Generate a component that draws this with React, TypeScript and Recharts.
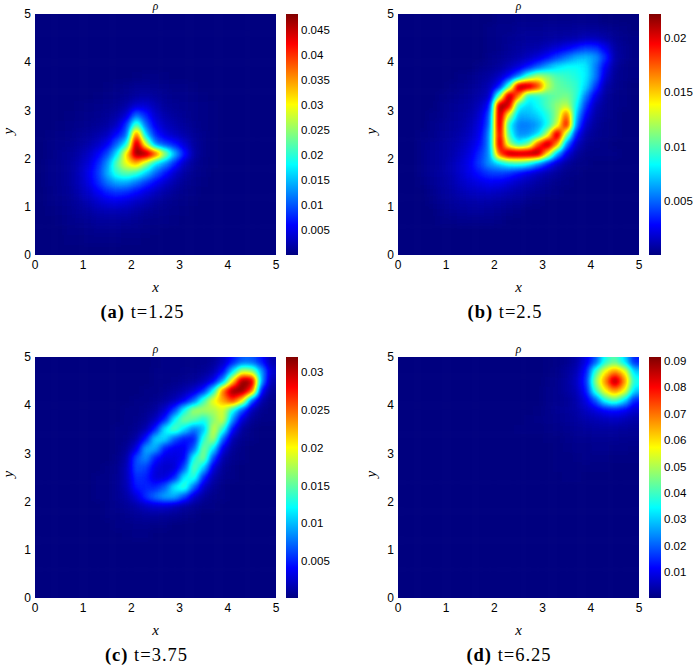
import { Bar, BarChart, Scatter, ScatterChart, XAxis, YAxis } from 'recharts';

// rho samples on a 25x25 grid, in units of 1e-4, top row first (y = 4.9 down to 0.1).
// Each row is [first column, values]; anything not listed is background.
type SparseRow = [number, number[]];

const xCenters = [0.1, 0.3, 0.5, 0.7, 0.9, 1.1, 1.3, 1.5, 1.7, 1.9, 2.1, 2.3, 2.5, 2.7, 2.9, 3.1, 3.3, 3.5, 3.7, 3.9, 4.1, 4.3, 4.5, 4.7, 4.9];
const yCenters = [4.9, 4.7, 4.5, 4.3, 4.1, 3.9, 3.7, 3.5, 3.3, 3.1, 2.9, 2.7, 2.5, 2.3, 2.1, 1.9, 1.7, 1.5, 1.3, 1.1, 0.9, 0.7, 0.5, 0.3, 0.1];

const axisTicks = [0, 1, 2, 3, 4, 5];

const rhoA: SparseRow[] = [
  [0, []], [0, []], [0, []], [0, []], [0, []], [0, []],
  [10, [2, 3, 3, 2]],
  [7, [2, 3, 5, 9, 10, 8, 6, 4, 3, 2]],
  [6, [2, 3, 5, 9, 16, 18, 13, 9, 6, 5, 3, 2]],
  [4, [2, 3, 5, 7, 10, 18, 38, 40, 25, 14, 10, 7, 5, 3, 2]],
  [3, [2, 3, 5, 8, 11, 18, 40, 115, 75, 35, 20, 13, 9, 6, 3, 2]],
  [2, [2, 3, 5, 8, 11, 17, 32, 85, 225, 110, 50, 30, 20, 13, 8, 4, 2]],
  [1, [2, 3, 6, 9, 13, 20, 30, 65, 105, 390, 160, 75, 45, 30, 20, 11, 5, 2]],
  [1, [3, 5, 8, 13, 20, 32, 55, 110, 180, 530, 280, 120, 90, 70, 40, 16, 6, 2]],
  [1, [4, 7, 11, 18, 32, 55, 95, 170, 320, 600, 500, 400, 260, 150, 70, 18, 6, 2]],
  [1, [5, 8, 13, 24, 42, 75, 130, 230, 300, 340, 260, 170, 130, 75, 30, 12, 4, 2]],
  [1, [5, 8, 14, 26, 50, 85, 145, 205, 225, 205, 160, 110, 70, 35, 17, 8, 3]],
  [1, [5, 8, 14, 26, 46, 78, 115, 140, 140, 115, 85, 58, 35, 20, 10, 5, 2]],
  [1, [4, 8, 12, 22, 36, 55, 75, 85, 80, 62, 45, 30, 18, 11, 6, 3]],
  [1, [3, 6, 10, 16, 25, 36, 45, 48, 42, 33, 24, 16, 10, 6, 3, 2]],
  [1, [2, 4, 7, 11, 16, 22, 25, 25, 22, 17, 12, 8, 5, 3, 2]],
  [2, [2, 5, 7, 10, 13, 14, 14, 12, 9, 6, 4, 3, 2]],
  [3, [3, 4, 6, 7, 7, 7, 6, 5, 3, 2]],
  [3, [2, 2, 3, 3, 3, 3, 2, 2]],
  [0, []],
];

const rhoB: SparseRow[] = [
  [10, [2, 2, 3, 3, 3, 3, 3, 3, 3, 3, 2]],
  [9, [2, 3, 3, 4, 4, 4, 5, 5, 5, 6, 6, 5, 4, 3, 2]],
  [9, [2, 3, 4, 5, 6, 6, 7, 8, 9, 10, 12, 12, 9, 5, 3, 2]],
  [9, [2, 3, 5, 7, 9, 10, 14, 18, 24, 32, 40, 38, 24, 8, 4, 2]],
  [9, [3, 4, 7, 10, 14, 20, 30, 42, 54, 66, 70, 62, 38, 10, 4, 2]],
  [8, [3, 4, 7, 12, 20, 32, 48, 65, 78, 85, 85, 80, 55, 25, 7, 3, 2]],
  [6, [2, 3, 5, 8, 15, 30, 55, 100, 125, 115, 100, 95, 90, 80, 55, 18, 5, 3, 2]],
  [5, [2, 3, 4, 7, 12, 30, 95, 240, 240, 190, 125, 105, 100, 95, 75, 40, 10, 4, 2]],
  [4, [2, 3, 4, 6, 10, 15, 105, 280, 170, 85, 90, 100, 105, 110, 95, 55, 22, 7, 3, 2]],
  [4, [3, 4, 6, 8, 14, 30, 250, 210, 85, 75, 85, 100, 115, 125, 85, 38, 12, 5, 3, 2]],
  [3, [2, 3, 5, 7, 10, 18, 45, 275, 130, 65, 68, 75, 90, 115, 180, 70, 25, 9, 4, 2]],
  [3, [3, 4, 6, 8, 12, 22, 50, 250, 85, 55, 55, 62, 85, 125, 205, 55, 16, 6, 3, 2]],
  [2, [2, 3, 5, 7, 10, 15, 25, 60, 210, 95, 58, 60, 75, 125, 245, 115, 30, 9, 4, 3, 2]],
  [2, [3, 4, 6, 9, 12, 18, 30, 60, 215, 120, 85, 105, 180, 285, 165, 55, 15, 5, 3, 2]],
  [2, [3, 5, 7, 10, 15, 22, 38, 60, 180, 230, 260, 285, 270, 145, 65, 22, 7, 3, 2, 2, 2]],
  [2, [3, 5, 7, 11, 17, 26, 42, 62, 75, 90, 95, 85, 60, 35, 16, 7, 3, 2]],
  [2, [3, 5, 8, 11, 17, 24, 33, 40, 42, 38, 30, 22, 15, 10, 6, 3, 2]],
  [2, [2, 4, 7, 10, 15, 19, 23, 25, 24, 20, 15, 11, 8, 5, 3, 2]],
  [3, [3, 6, 8, 11, 14, 15, 16, 14, 11, 9, 6, 4, 3, 2]],
  [3, [2, 4, 6, 8, 9, 10, 9, 8, 6, 5, 3, 2]],
  [4, [3, 4, 5, 6, 6, 5, 4, 3, 2]],
  [4, [2, 2, 3, 3, 3, 3, 2]],
  [0, []], [0, []], [0, []],
];

const rhoC: SparseRow[] = [
  [12, [1, 2, 2, 3, 4, 5, 8, 20, 45, 70, 70, 45, 15]],
  [12, [2, 2, 3, 4, 5, 8, 15, 40, 110, 185, 170, 90, 25]],
  [12, [2, 3, 4, 6, 9, 16, 35, 90, 210, 370, 310, 90, 15]],
  [11, [2, 3, 5, 9, 15, 25, 50, 120, 250, 340, 470, 260, 40, 8]],
  [10, [2, 3, 5, 10, 18, 35, 70, 140, 200, 230, 270, 210, 65, 14, 4]],
  [9, [2, 3, 5, 10, 25, 60, 125, 175, 175, 175, 190, 125, 65, 18, 5, 2]],
  [9, [2, 4, 8, 20, 50, 120, 160, 150, 125, 160, 190, 85, 25, 7, 3, 2]],
  [8, [2, 3, 6, 15, 50, 120, 150, 110, 75, 95, 190, 135, 40, 9, 3]],
  [8, [2, 4, 12, 45, 110, 110, 65, 45, 45, 135, 180, 70, 15, 5, 2]],
  [8, [3, 7, 30, 95, 95, 45, 35, 35, 70, 165, 115, 30, 8, 3]],
  [8, [4, 12, 65, 85, 45, 30, 30, 38, 130, 165, 60, 14, 5, 2]],
  [7, [2, 5, 18, 65, 60, 30, 22, 26, 65, 155, 105, 28, 8, 3]],
  [6, [2, 3, 6, 18, 55, 50, 26, 28, 50, 120, 135, 50, 14, 5, 2]],
  [6, [2, 3, 6, 16, 48, 50, 50, 70, 120, 140, 70, 22, 7, 3]],
  [6, [2, 3, 6, 12, 28, 55, 78, 95, 95, 60, 24, 9, 4, 2]],
  [7, [3, 5, 8, 13, 20, 25, 24, 18, 10, 6, 3, 2]],
  [7, [2, 3, 5, 7, 9, 9, 8, 6, 4, 2]],
  [8, [2, 3, 4, 4, 3, 2]],
  [9, [1, 2, 2]],
  [0, []], [0, []], [0, []], [0, []], [0, []], [0, []],
];

const rhoD: SparseRow[] = [
  [15, [4, 8, 15, 35, 90, 190, 370, 430, 320, 140]],
  [15, [5, 12, 25, 50, 130, 400, 580, 680, 580, 300]],
  [15, [8, 16, 30, 60, 150, 480, 680, 1500, 680, 370]],
  [15, [10, 16, 28, 50, 130, 400, 580, 680, 580, 300]],
  [15, [10, 14, 22, 40, 90, 190, 370, 430, 320, 140]],
  [14, [5, 12, 18, 25, 35, 60, 85, 120, 130, 110, 70]],
  [13, [3, 6, 10, 15, 21, 30, 40, 45, 55, 60, 50, 35]],
  [12, [3, 3, 5, 8, 10, 15, 20, 25, 28, 30, 28, 26, 22]],
  [15, [2, 5, 9, 13, 16, 18, 18, 18, 15, 14]],
  [16, [3, 6, 9, 12, 13, 13, 12, 9, 7]],
  [16, [3, 5, 8, 9, 8, 7, 5, 3, 2]],
  [16, [3, 3, 5, 5, 4, 3]],
  [17, [2, 2]],
  [0, []], [0, []], [0, []], [0, []], [0, []], [0, []], [0, []], [0, []], [0, []], [0, []], [0, []], [0, []],
];

const ticksA = [0.005, 0.01, 0.015, 0.02, 0.025, 0.03, 0.035, 0.04, 0.045];
const ticksB = [0.005, 0.01, 0.015, 0.02];
const ticksC = [0.005, 0.01, 0.015, 0.02, 0.025, 0.03];
const ticksD = [0.01, 0.02, 0.03, 0.04, 0.05, 0.06, 0.07, 0.08, 0.09];

const jetStops = ['#800000', '#ff0000', '#ff8000', '#ffff00', '#80ff80', '#00ffff', '#0080ff', '#0000ff', '#000080'];

const PLOT = 241;
const CELL = PLOT / 25;
const FONT = '"Liberation Sans", Arial, sans-serif';
const SERIF = '"Liberation Serif", "Times New Roman", serif';

function toCells(rows: SparseRow[]) {
  return rows.flatMap(([from, values], r) =>
    xCenters.map((x, c) => ({ x, y: yCenters[r], rho: (values[c - from] ?? 0) * 1e-4 })),
  );
}

// cells are painted as grey levels; the #rhoJet filter blurs them and maps grey to jet
function HeatCell({ cx, cy, payload, max }: any) {
  const pad = 14;
  const level = Math.round(Math.min(1, payload.rho / max) * 255);
  const left = cx - CELL / 2 - (payload.x === 0.1 ? pad : 0);
  const top = cy - CELL / 2 - (payload.y === 4.9 ? pad : 0);
  const right = cx + CELL / 2 + 0.6 + (payload.x === 4.9 ? pad : 0);
  const bottom = cy + CELL / 2 + 0.6 + (payload.y === 0.1 ? pad : 0);
  return <rect x={left} y={top} width={right - left} height={bottom - top} fill={`rgb(${level},${level},${level})`} />;
}

function Panel({ left, top, rows, min, max, ticks, caption, tag, captionX }: any) {
  const tickStyle = { fontSize: 12, fontFamily: FONT, fill: '#000' };
  const barTickStyle = { fontSize: 11.5, fontFamily: FONT, fill: '#000' };
  const labelStyle = { fontSize: 15, fontFamily: SERIF, fontStyle: 'italic', fill: '#000' };
  return (
    <>
      <div style={{ position: 'absolute', left, top: top - 14 }}>
        <ScatterChart width={280} height={298} margin={{ top: 14, right: 4, bottom: 0, left: 0 }}>
          <XAxis
            type="number"
            dataKey="x"
            domain={[0, 5]}
            ticks={axisTicks}
            interval={0}
            height={43}
            axisLine={false}
            tickLine={false}
            tickSize={0}
            tickMargin={5}
            tick={tickStyle}
            label={{ value: 'x', position: 'insideBottom', offset: 6, style: labelStyle }}
          />
          <YAxis
            type="number"
            dataKey="y"
            domain={[0, 5]}
            ticks={axisTicks}
            interval={0}
            width={35}
            axisLine={false}
            tickLine={false}
            tickSize={0}
            tickMargin={4}
            tick={tickStyle}
            label={{ value: 'y', angle: -90, position: 'insideLeft', offset: 8, style: labelStyle }}
          />
          <Scatter
            data={toCells(rows)}
            isAnimationActive={false}
            shape={(p: any) => <HeatCell {...p} max={max} />}
          />
          <text x={155.5} y={10} textAnchor="middle" fontSize={11.5} fontFamily={SERIF} fontStyle="italic">
            ρ
          </text>
        </ScatterChart>
      </div>
      <div style={{ position: 'absolute', left: left + 286, top: top - 14 }}>
        <BarChart
          width={46}
          height={255}
          data={[{ name: 'rho', span: [min, max] }]}
          barCategoryGap={0}
          margin={{ top: 14, right: 0, bottom: 0, left: 0 }}
        >
          <XAxis dataKey="name" hide />
          <YAxis
            orientation="right"
            type="number"
            domain={[min, max]}
            ticks={ticks}
            interval={0}
            width={34}
            axisLine={false}
            tickLine={false}
            tickSize={0}
            tickMargin={3}
            tick={barTickStyle}
          />
          <Bar dataKey="span" fill="url(#jetBar)" isAnimationActive={false} />
        </BarChart>
      </div>
      <div
        style={{
          position: 'absolute',
          left: captionX,
          top: top + 255 - 14 + 47,
          width: 140,
          transform: 'translateX(-70px)',
          textAlign: 'center',
          fontFamily: SERIF,
          fontSize: 18.5,
          lineHeight: '20px',
          letterSpacing: 1,
          whiteSpace: 'pre',
        }}
      >
        <b>({tag})</b> {caption}
      </div>
    </>
  );
}

export default function App() {
  const levels = [0, 0.125, 0.25, 0.375, 0.5, 0.625, 0.75, 0.875, 1];
  return (
    <div style={{ position: 'absolute', left: 0, top: 0, width: 693, height: 666, overflow: 'hidden' }}>
      <style>{`.recharts-scatter { filter: url(#rhoJet); clip-path: url(#rhoPlot); }`}</style>
      <svg width={0} height={0} style={{ position: 'absolute' }}>
        <defs>
          <linearGradient id="jetBar" x1="0" y1="0" x2="0" y2="1">
            {jetStops.map((c, i) => (
              <stop key={i} offset={levels[i]} stopColor={c} />
            ))}
          </linearGradient>
          <clipPath id="rhoPlot">
            <rect x={35} y={14} width={PLOT} height={PLOT} />
          </clipPath>
          <filter id="rhoJet" colorInterpolationFilters="sRGB" x="-5%" y="-5%" width="110%" height="110%">
            <feGaussianBlur stdDeviation={3.8} />
            <feComponentTransfer>
              <feFuncR type="table" tableValues="0 0 0 0 0.5 1 1 1 0.5" />
              <feFuncG type="table" tableValues="0 0 0.5 1 1 1 0.5 0 0" />
              <feFuncB type="table" tableValues="0.5 1 1 1 0.5 0 0 0 0" />
            </feComponentTransfer>
          </filter>
        </defs>
      </svg>
      <Panel left={0} top={14} rows={rhoA} min={0} max={0.0481} ticks={ticksA} tag="a" caption="t=1.25" captionX={142.5} />
      <Panel left={362.5} top={14} rows={rhoB} min={0} max={0.0222} ticks={ticksB} tag="b" caption="t=2.5" captionX={505} />
      <Panel left={0} top={357} rows={rhoC} min={0.0001} max={0.032} ticks={ticksC} tag="c" caption="t=3.75" captionX={146.5} />
      <Panel left={362.5} top={357} rows={rhoD} min={0.0001} max={0.0915} ticks={ticksD} tag="d" caption="t=6.25" captionX={509} />
    </div>
  );
}
